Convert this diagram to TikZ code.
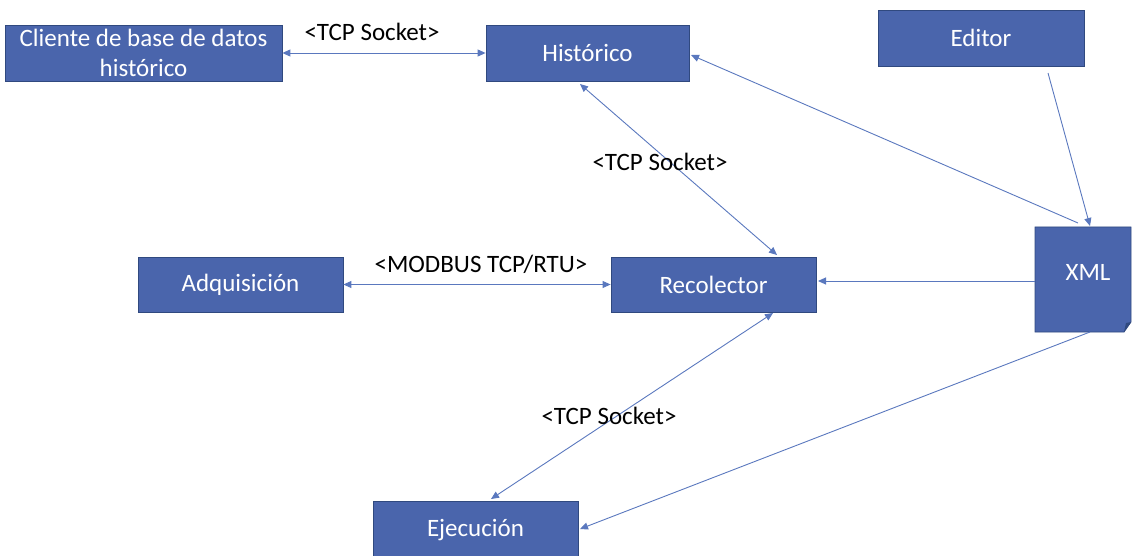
\documentclass[tikz,border=0pt]{standalone}
\usepackage{fontspec}
\setmainfont{Carlito}
\usetikzlibrary{arrows.meta}
\definecolor{boxfill}{HTML}{4A65AC}
\definecolor{boxline}{HTML}{30497F}
\definecolor{wire}{HTML}{5A78BE}
\tikzset{
  block/.style={draw=boxline, line width=0.8pt, fill=boxfill, text=white,
    font=\fontsize{25}{30}\selectfont, align=center, inner sep=0pt},
  link/.style={draw=wire, line width=0.9pt},
  tip/.style={-{Triangle[length=8pt,width=7pt]}},
  tips/.style={{Triangle[length=8pt,width=7pt]}-{Triangle[length=8pt,width=7pt]}},
  lbl/.style={font=\fontsize{25}{30}\selectfont, text=black, inner sep=0pt}
}
\begin{document}
\begin{tikzpicture}[x=1pt,y=-1pt]
\useasboundingbox (0,0) rectangle (1133,556);

% boxes
\node[block, minimum width=277pt, minimum height=56pt] (cli) at (143.5,53) {Cliente de base de datos\\histórico};
\node[block, minimum width=203pt, minimum height=56pt] (his) at (587.5,53) {Histórico};
\node[block, minimum width=206pt, minimum height=56pt] (edi) at (981,38) {Editor};
\node[block, minimum width=205pt, minimum height=55pt] (adq) at (240.5,284.5) {Adquisición};
\node[block, minimum width=205pt, minimum height=55pt] (rec) at (713.5,284.5) {Recolector};
\node[block, minimum width=205pt, minimum height=58pt] (eje) at (475.5,530) {Ejecución};

% XML document with folded corner
\fill[boxfill, draw=boxline, line width=0.8pt] (1035,227) -- (1131,227) -- (1131,322) -- (1124,332) -- (1035,332) -- cycle;
\fill[boxline] (1131,322) -- (1124,332) -- (1126,323) -- cycle;
\node[block, draw=none, fill=none, minimum width=96pt, minimum height=105pt] (xml) at (1083,279.5) {};
\node[text=white, font=\fontsize{25}{30}\selectfont, inner sep=0pt] (xmltxt) at (1088,272) {XML};

% anchor points on the boxes
\coordinate (hisA) at (580,84);
\coordinate (recT) at (777,255);
\coordinate (recB) at (773,313);
\coordinate (ejeT) at (491,499);
\coordinate (ejeR) at (580,529);
\coordinate (hisR) at (691,55);
\coordinate (xmlTL) at (1078,223);
\coordinate (xmlT) at (1090,226);
\coordinate (ediB) at (1048,73);
\coordinate (xmlB) at (1090,332);
\coordinate (xmlL) at (1035,281);
\coordinate (recR) at (818,281);

% connectors
\draw[link, tips] (cli.east) -- (his.west);
\draw[link, tips] (adq.east) -- (rec.west);
\draw[link, tips] (hisA) -- (recT);
\draw[link, tips] (recB) -- (ejeT);
\draw[link, tip] (xmlTL) -- (hisR);
\draw[link, tip] (ediB) -- (xmlT);
\draw[link, tip] (xmlL) -- (recR);
\draw[link, tip] (xmlB) -- (ejeR);

% labels
\node[lbl] (l1) at (372,32) {<TCP Socket>};
\node[lbl] (l2) at (660,162) {<TCP Socket>};
\node[lbl] (l3) at (481,264) {<MODBUS TCP/RTU>};
\node[lbl] (l4) at (609,416) {<TCP Socket>};
\end{tikzpicture}
\end{document}
